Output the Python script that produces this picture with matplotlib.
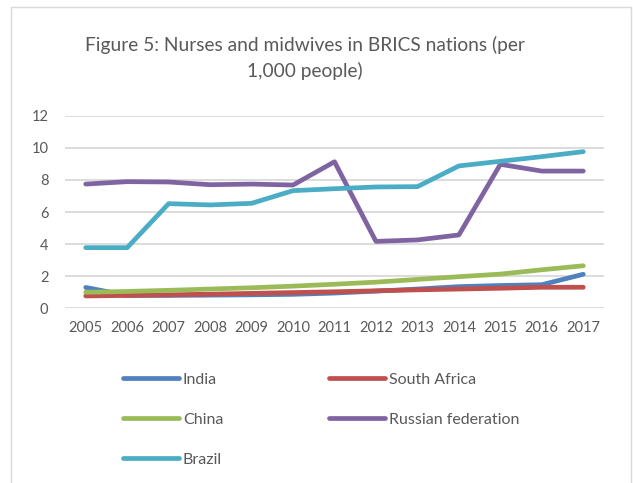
import matplotlib
matplotlib.use("Agg")
import matplotlib.pyplot as plt
from matplotlib.patches import Rectangle

years = ["2005", "2006", "2007", "2008", "2009", "2010", "2011",
         "2012", "2013", "2014", "2015", "2016", "2017"]

india = [1.30, 0.80, 0.80, 0.82, 0.84, 0.87, 0.95, 1.07, 1.20, 1.35, 1.42, 1.47, 2.12]
south_africa = [0.77, 0.80, 0.84, 0.88, 0.93, 0.98, 1.03, 1.09, 1.15, 1.20, 1.25, 1.31, 1.31]
china = [1.00, 1.05, 1.12, 1.20, 1.28, 1.38, 1.50, 1.63, 1.80, 1.97, 2.13, 2.40, 2.65]
russia = [7.74, 7.89, 7.87, 7.70, 7.74, 7.68, 9.13, 4.17, 4.26, 4.57, 8.97, 8.55, 8.55]
brazil = [3.78, 3.78, 6.52, 6.44, 6.54, 7.33, 7.45, 7.56, 7.58, 8.87, 9.16, 9.45, 9.76]

series = [
    ("India", india, "#4F81BD"),
    ("South Africa", south_africa, "#C0504D"),
    ("China", china, "#9BBB59"),
    ("Russian federation", russia, "#8064A2"),
    ("Brazil", brazil, "#4BACC6"),
]

grey = "#595959"
plt.rcParams["font.family"] = ["Lato", "DejaVu Sans"]

fig = plt.figure(figsize=(6.33, 4.83), dpi=100)

# chart frame
fig.patches.append(Rectangle((11 / 633, -0.05), 620 / 633, 1.05 - 7 / 483,
                             transform=fig.transFigure, fill=False,
                             edgecolor="#d9d9d9", linewidth=1.0))

ax = fig.add_axes([65 / 633, 1 - 308.3 / 483, 539 / 633, 192.6 / 483])
x = list(range(len(years)))
lines = {}
for name, vals, col in series:
    lines[name], = ax.plot(x, vals, color=col, linewidth=3.4,
                           solid_capstyle="round", solid_joinstyle="round")

ax.set_xlim(-0.5, len(years) - 0.5)
ax.set_ylim(0, 12)
ax.set_yticks(range(0, 13, 2))
ax.set_xticks(x)
ax.set_xticklabels(years)
ax.grid(axis="y", color="#d9d9d9", linewidth=1.3)
ax.set_axisbelow(True)
for s in ax.spines.values():
    s.set_visible(False)
ax.tick_params(axis="both", length=0, labelsize=10.5, colors=grey)
ax.tick_params(axis="y", pad=12)
ax.tick_params(axis="x", pad=9)

fig.text(305 / 633, 1 - 58 / 483,
         "Figure 5: Nurses and midwives in BRICS nations (per\n1,000 people)",
         ha="center", va="center", fontsize=13.8, color=grey, linespacing=1.55)

# legend filled row by row: India | South Africa, China | Russia, Brazil
order = ["India", "China", "Brazil", "South Africa", "Russian federation"]
leg = fig.legend([lines[n] for n in order], order, ncol=2,
                 loc="upper left", bbox_to_anchor=(123 / 633, 1 - 372.5 / 483),
                 frameon=False, fontsize=11.5, handlelength=3.5,
                 handletextpad=0.25, columnspacing=6.65, labelspacing=1.62,
                 borderaxespad=0, borderpad=0)
for t in leg.get_texts():
    t.set_color(grey)

fig.savefig("out.png", dpi=100)
